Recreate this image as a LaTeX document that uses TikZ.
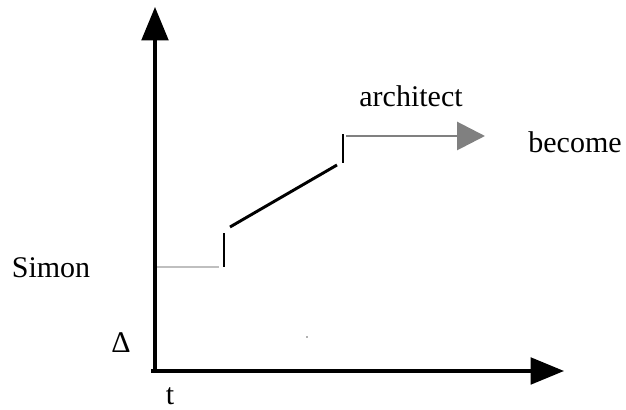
\documentclass[tikz,border=0pt]{standalone}
\usepackage{fontspec}
\setmainfont{Liberation Serif}
\usetikzlibrary{arrows.meta}
\tikzset{
  axisline/.style={black, line width=2.3pt, -{Triangle[length=25pt, width=20pt]}},
  stepline/.style={black, line width=2.2pt},
  label/.style={font=\fontsize{22.5}{27}\selectfont, inner sep=0pt}
}

\begin{document}
\begin{tikzpicture}[x=0.75pt,y=0.75pt]
\useasboundingbox (0,0) rectangle (626,410);
% axes
\coordinate (o) at (155,39);
\coordinate (ytip) at (155,403);
\coordinate (xtip) at (564,39);
\draw[axisline] ([yshift=-1pt]o) -- (ytip);
\draw[axisline] ([xshift=-3pt]o) -- (xtip);
% path of the graph
\coordinate (s0) at (157,143);
\coordinate (s1) at (219,143);
\coordinate (t1a) at (224,143);
\coordinate (t1b) at (224,177);
\coordinate (d0) at (230,183);
\coordinate (d1) at (337,245);
\coordinate (t2a) at (343,247);
\coordinate (t2b) at (343,276);
\coordinate (g0) at (346,274);
\coordinate (g1) at (485,274);
\draw[black!25, line width=2pt] (s0) -- (s1);
\draw[stepline] (t1a) -- (t1b);
\draw[stepline] (d0) -- (d1);
\draw[stepline] (t2a) -- (t2b);
\draw[black!50, line width=2.2pt, -{Triangle[length=21pt, width=21pt]}] (g0) -- (g1);
\fill[black!30] (306,72) rectangle (308,74);
% labels
\node[label] (simon) at (51,142) {Simon};
\node[label] (delta) at (121,67) {Δ};
\node[label] (tlab) at (170,14) {t};
\node[label] (arch) at (411,314) {architect};
\node[label] (become) at (575,268) {become};
\end{tikzpicture}
\end{document}
